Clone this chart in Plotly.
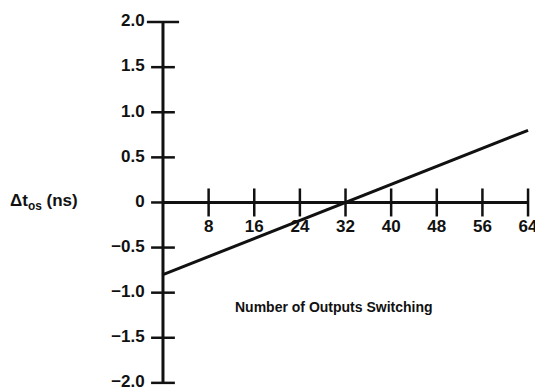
import plotly.graph_objects as go

# Data
outputs_switching = [0, 64]
delta_tos_ns = [-0.8, 0.8]
x_ticks = [8, 16, 24, 32, 40, 48, 56, 64]
y_ticks = [1.5, 1.0, 0.5, 0, -0.5, -1.0, -1.5, -2.0]
y_top = 2.0
y_tick_labels = ["1.5", "1.0", "0.5", "0", "\u22120.5", "\u22121.0", "\u22121.5", "\u22122.0"]

FONT = "Liberation Sans"
BLACK = "#111111"

fig = go.Figure()

# y axis line
fig.add_trace(go.Scatter(x=[0, 0], y=[-2.0, y_top], mode="lines",
                         line=dict(color=BLACK, width=3), hoverinfo="skip"))
# x axis line
fig.add_trace(go.Scatter(x=[0, 64], y=[0, 0], mode="lines",
                         line=dict(color=BLACK, width=3), hoverinfo="skip"))
# y ticks (crossing)
fig.add_trace(go.Scatter(x=[0] * len(y_ticks), y=y_ticks, mode="markers",
                         marker=dict(symbol="line-ew", size=17,
                                     line=dict(color=BLACK, width=2.5)),
                         cliponaxis=False, hoverinfo="skip"))
fig.add_trace(go.Scatter(x=[0], y=[y_top], mode="markers",
                         marker=dict(symbol="line-ew", size=23,
                                     line=dict(color=BLACK, width=2.5)),
                         cliponaxis=False, hoverinfo="skip"))
# x ticks (crossing)
fig.add_trace(go.Scatter(x=x_ticks, y=[0] * len(x_ticks), mode="markers",
                         marker=dict(symbol="line-ns", size=20,
                                     line=dict(color=BLACK, width=2.5)),
                         cliponaxis=False, hoverinfo="skip"))
# y tick labels
fig.add_trace(go.Scatter(x=[-3.2] * (len(y_ticks) + 1), y=[y_top] + y_ticks, mode="text",
                         text=["<b>2.0</b>"] + ["<b>%s</b>" % t for t in y_tick_labels],
                         textposition="middle left",
                         textfont=dict(family=FONT, size=17, color=BLACK),
                         cliponaxis=False, hoverinfo="skip"))
# x tick labels
fig.add_trace(go.Scatter(x=x_ticks, y=[-0.28] * len(x_ticks), mode="text",
                         text=["<b>%d</b>" % v for v in x_ticks], textposition="middle center",
                         textfont=dict(family=FONT, size=17, color=BLACK),
                         cliponaxis=False, hoverinfo="skip"))
# data line
fig.add_trace(go.Scatter(x=outputs_switching, y=delta_tos_ns, mode="lines",
                         line=dict(color=BLACK, width=3), hoverinfo="skip"))

fig.add_annotation(x=30, y=-1.16, text="<b>Number of Outputs Switching</b>",
                   showarrow=False, font=dict(family=FONT, size=14, color=BLACK))
fig.add_annotation(x=-20.8, y=0, text="<b>\u0394t<sub>os</sub> (ns)</b>",
                   showarrow=False, font=dict(family=FONT, size=17, color=BLACK))

fig.update_layout(
    width=535, height=382,
    margin=dict(l=0, r=0, t=0, b=0),
    paper_bgcolor="white", plot_bgcolor="white",
    showlegend=False,
    xaxis=dict(range=[-27.17, 66.62], visible=False, fixedrange=True),
    yaxis=dict(range=[-2.079, 2.156], visible=False, fixedrange=True),
)

fig.write_html("out.html")
